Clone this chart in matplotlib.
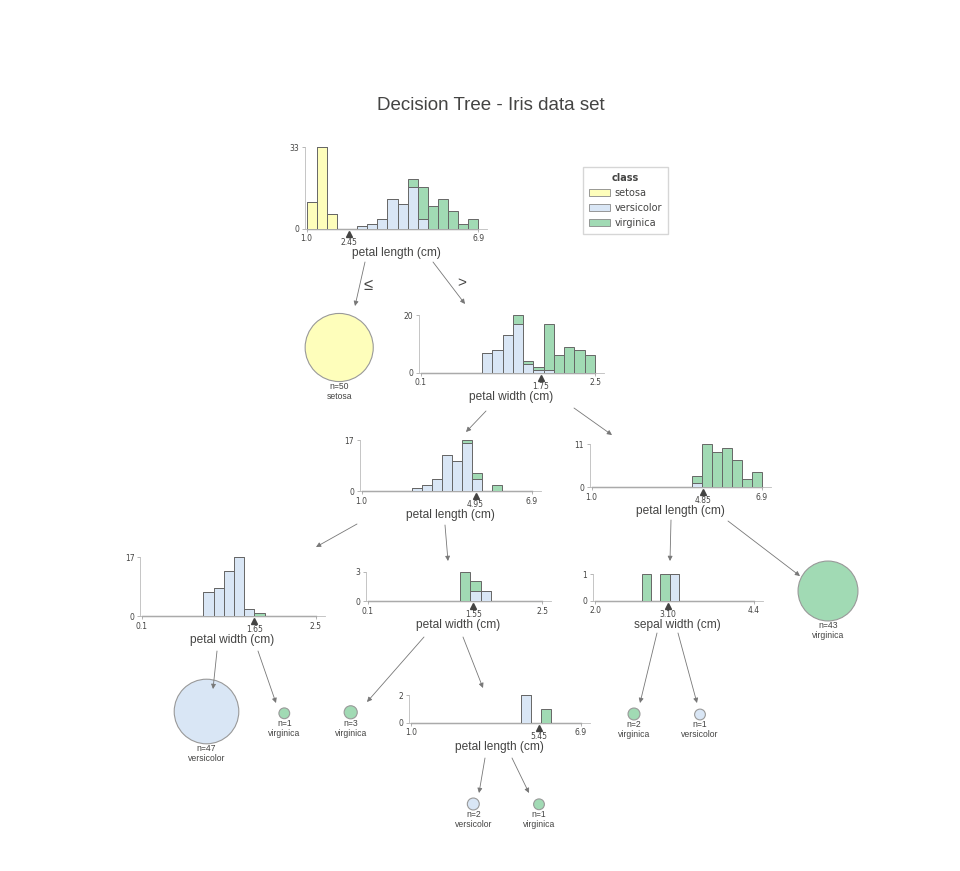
import numpy as np
import matplotlib
matplotlib.use('Agg')
import matplotlib.pyplot as plt
from matplotlib.patches import Circle, Patch
from matplotlib.transforms import offset_copy

#-----------------------------------------------------------------------
# data: stacked class counts per histogram bin (17 bins over the feature range)
classes = ['setosa', 'versicolor', 'virginica']
class_colors = ['#FEFEBB', '#D9E6F5', '#A1DAB4']

# node 1: petal length, all samples
n1_setosa     = [11, 33, 6, 0, 0, 0, 0, 0, 0, 0, 0, 0, 0, 0, 0, 0, 0]
n1_versicolor = [0, 0, 0, 0, 0, 1, 2, 4, 12, 10, 17, 4, 0, 0, 0, 0, 0]
n1_virginica  = [0, 0, 0, 0, 0, 0, 0, 0, 0, 0, 3, 13, 9, 12, 7, 2, 4]
# node 2: petal width
n2_setosa     = [0, 0, 0, 0, 0, 0, 0, 0, 0, 0, 0, 0, 0, 0, 0, 0, 0]
n2_versicolor = [0, 0, 0, 0, 0, 0, 7, 8, 13, 17, 3, 1, 1, 0, 0, 0, 0]
n2_virginica  = [0, 0, 0, 0, 0, 0, 0, 0, 0, 3, 1, 1, 16, 6, 9, 8, 6]
# node 3: petal length
n3_setosa     = [0, 0, 0, 0, 0, 0, 0, 0, 0, 0, 0, 0, 0, 0, 0, 0, 0]
n3_versicolor = [0, 0, 0, 0, 0, 1, 2, 4, 12, 10, 16, 4, 0, 0, 0, 0, 0]
n3_virginica  = [0, 0, 0, 0, 0, 0, 0, 0, 0, 0, 1, 2, 0, 2, 0, 0, 0]
# node 4: petal length
n4_setosa     = [0, 0, 0, 0, 0, 0, 0, 0, 0, 0, 0, 0, 0, 0, 0, 0, 0]
n4_versicolor = [0, 0, 0, 0, 0, 0, 0, 0, 0, 0, 1, 0, 0, 0, 0, 0, 0]
n4_virginica  = [0, 0, 0, 0, 0, 0, 0, 0, 0, 0, 2, 11, 9, 10, 7, 2, 4]
# node 5: petal width
n5_setosa     = [0, 0, 0, 0, 0, 0, 0, 0, 0, 0, 0, 0, 0, 0, 0, 0, 0]
n5_versicolor = [0, 0, 0, 0, 0, 0, 7, 8, 13, 17, 2, 0, 0, 0, 0, 0, 0]
n5_virginica  = [0, 0, 0, 0, 0, 0, 0, 0, 0, 0, 0, 1, 0, 0, 0, 0, 0]
# node 6: petal width
n6_setosa     = [0, 0, 0, 0, 0, 0, 0, 0, 0, 0, 0, 0, 0, 0, 0, 0, 0]
n6_versicolor = [0, 0, 0, 0, 0, 0, 0, 0, 0, 0, 1, 1, 0, 0, 0, 0, 0]
n6_virginica  = [0, 0, 0, 0, 0, 0, 0, 0, 0, 3, 1, 0, 0, 0, 0, 0, 0]
# node 7: sepal width
n7_setosa     = [0, 0, 0, 0, 0, 0, 0, 0, 0, 0, 0, 0, 0, 0, 0, 0, 0]
n7_versicolor = [0, 0, 0, 0, 0, 0, 0, 0, 1, 0, 0, 0, 0, 0, 0, 0, 0]
n7_virginica  = [0, 0, 0, 0, 0, 1, 0, 1, 0, 0, 0, 0, 0, 0, 0, 0, 0]
# node 8: petal length
n8_setosa     = [0, 0, 0, 0, 0, 0, 0, 0, 0, 0, 0, 0, 0, 0, 0, 0, 0]
n8_versicolor = [0, 0, 0, 0, 0, 0, 0, 0, 0, 0, 0, 2, 0, 0, 0, 0, 0]
n8_virginica  = [0, 0, 0, 0, 0, 0, 0, 0, 0, 0, 0, 0, 0, 1, 0, 0, 0]

node_counts = [
    [n1_setosa, n1_versicolor, n1_virginica],
    [n2_setosa, n2_versicolor, n2_virginica],
    [n3_setosa, n3_versicolor, n3_virginica],
    [n4_setosa, n4_versicolor, n4_virginica],
    [n5_setosa, n5_versicolor, n5_virginica],
    [n6_setosa, n6_versicolor, n6_virginica],
    [n7_setosa, n7_versicolor, n7_virginica],
    [n8_setosa, n8_versicolor, n8_virginica],
]
node_feature = ['petal length (cm)', 'petal width (cm)', 'petal length (cm)', 'petal length (cm)',
                'petal width (cm)', 'petal width (cm)', 'sepal width (cm)', 'petal length (cm)']
node_range = [(1.0, 6.9), (0.1, 2.5), (1.0, 6.9), (1.0, 6.9),
              (0.1, 2.5), (0.1, 2.5), (2.0, 4.4), (1.0, 6.9)]
node_split = [2.45, 1.75, 4.95, 4.85, 1.65, 1.55, 3.10, 5.45]

# leaves
leaf_n = [50, 47, 1, 3, 2, 1, 2, 1, 43]
leaf_class = [0, 1, 2, 2, 1, 2, 2, 1, 2]

#-----------------------------------------------------------------------
# layout (pixels of the 960x871 picture)
W, H = 960, 871
# x of range min, x of range max, y of zero, y of max count
node_box = [(306.7, 478.3, 228.7, 147.3),
            (420.7, 595.0, 372.7, 315.0),
            (361.7, 531.7, 491.0, 440.0),
            (591.7, 761.7, 487.3, 444.3),
            (142.0, 315.7, 616.0, 557.3),
            (367.7, 542.3, 601.0, 571.7),
            (595.0, 753.7, 600.7, 574.0),
            (411.0, 580.7, 722.7, 695.0)]
leaf_xy = [(339.2, 347.5), (206.5, 711.5), (284.3, 713.3), (350.7, 712.3),
           (473.3, 804.0), (539.0, 804.3), (634.0, 714.0), (700.0, 714.5),
           (828.0, 591.0)]
edges = [((365, 262), (355, 306)), ((433, 262), (465, 304)),
         ((486, 411), (466, 432)), ((574, 408), (612, 435)),
         ((357, 524), (316, 547)), ((445, 525), (448, 561)),
         ((671, 520), (670, 561)), ((728, 521), (800, 576)),
         ((217, 651), (213, 689)), ((258, 651), (276, 703)),
         ((424, 637), (367, 702)), ((463, 637), (483, 688)),
         ((657, 633), (640, 703)), ((678, 633), (697, 703)),
         ((485, 758), (479, 793)), ((512, 758), (529, 793))]

TXT = '#444443'
EDGE = '#666666'
SANS = ['Liberation Sans', 'DejaVu Sans']

fig = plt.figure(figsize=(W / 100, H / 100), dpi=100)
fig.patch.set_facecolor('white')

# overlay axes in pixel units for arrows, leaves and titles
ov = fig.add_axes([0, 0, 1, 1], zorder=0)
ov.set_xlim(0, W)
ov.set_ylim(H, 0)
ov.axis('off')

ov.text(491, 105, 'Decision Tree - Iris data set', ha='center', va='center',
        fontsize=13.5, color=TXT, family=SANS)

for (x0, y0), (x1, y1) in edges:
    ov.annotate('', xy=(x1, y1), xytext=(x0, y0),
                arrowprops=dict(arrowstyle='-|>', color='#777777', lw=0.6,
                                mutation_scale=7, shrinkA=0, shrinkB=0))
ov.text(368, 285, '\u2264', ha='center', va='center', fontsize=12, color=TXT, family=SANS)
ov.text(462, 283, '>', ha='center', va='center', fontsize=11, color=TXT, family=SANS)

#-----------------------------------------------------------------------
# decision node histograms
for i in range(8):
    xlo, xhi, yz, ytop = node_box[i]
    lo, hi = node_range[i]
    ppu = (xhi - xlo) / (hi - lo)
    left_px, right_px = xlo - 2, xhi + 9
    ax = fig.add_axes([left_px / W, 1 - yz / H, (right_px - left_px) / W, (yz - ytop) / H],
                      zorder=2)
    ax.patch.set_alpha(0)
    edges_x = np.linspace(lo, hi, len(node_counts[i][0]) + 1)
    width = edges_x[1] - edges_x[0]
    bottom = np.zeros(len(edges_x) - 1)
    for k in range(3):
        c = np.array(node_counts[i][k])
        ax.bar(edges_x[:-1], c, width=width, bottom=bottom, align='edge',
               color=class_colors[k], edgecolor=EDGE, linewidth=0.7, zorder=3)
        bottom = bottom + c
    # empty bins show up as a dark line on the baseline
    ax.plot([lo, hi], [0, 0], color='#555555', lw=0.9, zorder=2, clip_on=False)
    ymax = int(bottom.max())
    ax.set_xlim(lo - 2 / ppu, hi + 9 / ppu)
    ax.set_ylim(0, ymax)
    for s in ['top', 'right']:
        ax.spines[s].set_visible(False)
    for s in ['left', 'bottom']:
        ax.spines[s].set_color('#bbbbbb')
        ax.spines[s].set_linewidth(0.6)
    ax.set_xticks([lo, hi])
    ax.set_xticklabels(['%.1f' % lo, '%.1f' % hi])
    ax.set_yticks([0, ymax])
    ax.set_yticklabels(['0', str(ymax)])
    ax.tick_params(labelsize=5.5, labelcolor=TXT, color='#999999', length=2,
                   width=0.5, pad=2)
    # split marker
    sp = node_split[i]
    ax.plot([sp], [0], marker='^', ms=3.8, color=TXT, clip_on=False, zorder=5,
            transform=offset_copy(ax.transData, fig=fig, y=-5, units='dots'))
    ax.text(sp, 0, '%.2f' % sp, ha='center', va='center', fontsize=5.5, color=TXT,
            transform=offset_copy(ax.transData, fig=fig, y=-13.5, units='dots'))
    ax.annotate(node_feature[i], xy=(0.5, 0), xycoords='axes fraction',
                xytext=(0, -24 * 0.72), textcoords='offset points',
                ha='center', va='center', fontsize=8.6, color=TXT, family=SANS)

#-----------------------------------------------------------------------
# leaves
for j in range(len(leaf_n)):
    cx, cy = leaf_xy[j]
    r = 4.8 + 0.585 * leaf_n[j]
    ov.add_patch(Circle((cx, cy), r, facecolor=class_colors[leaf_class[j]],
                        edgecolor='#999999', linewidth=0.8))
    ov.text(cx, cy + r + 5, 'n=%d' % leaf_n[j], ha='center', va='center',
            fontsize=6.2, color=TXT, family=SANS)
    ov.text(cx, cy + r + 14.5, classes[leaf_class[j]], ha='center', va='center',
            fontsize=6.2, color=TXT, family=SANS)

# legend
handles = [Patch(facecolor=class_colors[k], edgecolor='#888888', linewidth=0.6,
                 label=classes[k]) for k in range(3)]
leg = fig.legend(handles=handles, title='class', loc='upper left',
                 bbox_to_anchor=(583 / W, 1 - 167 / H), fontsize=7,
                 title_fontproperties={'weight': 'bold', 'size': 7},
                 frameon=True, fancybox=False, edgecolor='#cccccc',
                 handlelength=2.1, handleheight=0.7, labelspacing=0.5,
                 borderpad=0.65, handletextpad=0.5, borderaxespad=0)
for t in leg.get_texts():
    t.set_color(TXT)
leg.get_title().set_color(TXT)

fig.savefig('out.png', dpi=100)
